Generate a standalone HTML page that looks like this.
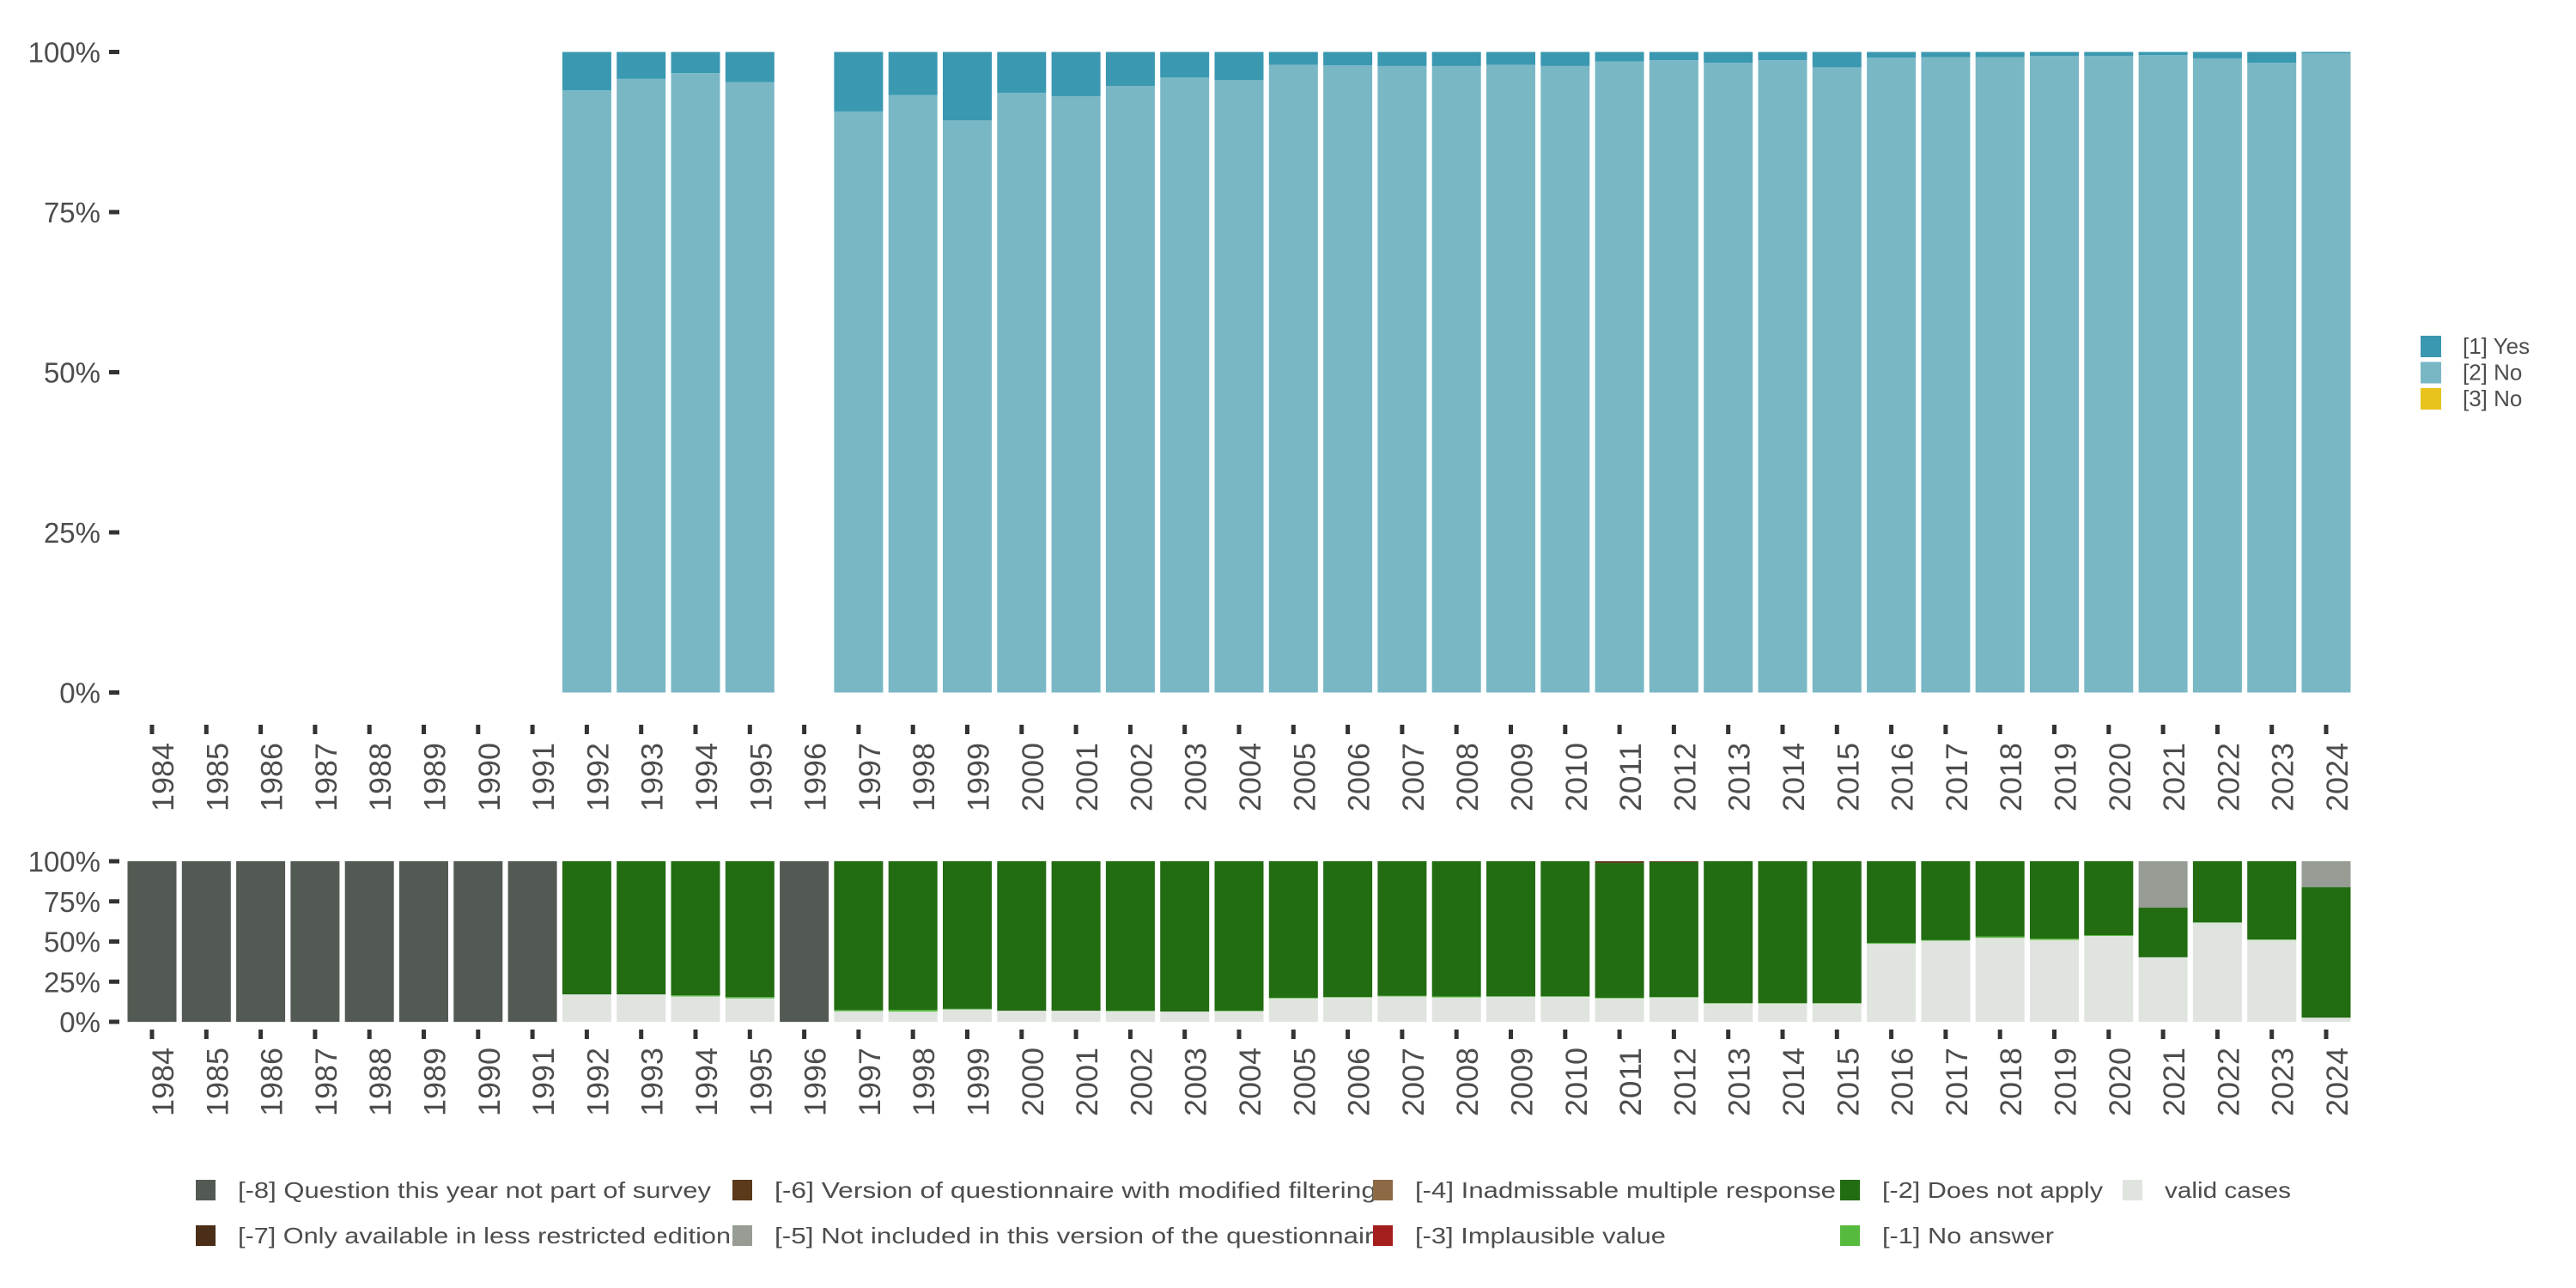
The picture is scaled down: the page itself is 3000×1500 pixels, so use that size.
<!DOCTYPE html>
<html><head><meta charset="utf-8"><style>
html,body{margin:0;padding:0;background:#fff}
svg{display:block}
text{font-family:"Liberation Sans","DejaVu Sans",sans-serif;fill:#4d4d4d}
</style></head><body>
<svg id="chart" width="3000" height="1500" viewBox="0 0 3000 1500" xmlns="http://www.w3.org/2000/svg">
<g id="top"></g>
<g id="bot"></g>
<g id="leg"></g>
</svg>
<script>
const years = [1984,1985,1986,1987,1988,1989,1990,1991,1992,1993,1994,1995,1996,1997,1998,1999,2000,2001,2002,2003,2004,2005,2006,2007,2008,2009,2010,2011,2012,2013,2014,2015,2016,2017,2018,2019,2020,2021,2022,2023,2024];
// top panel: share of "[2] No" (remainder "[1] Yes"); null = no data
const noShare = [null,null,null,null,null,null,null,null,94.0,95.8,96.7,95.3,null,90.7,93.3,89.3,93.6,93.1,94.7,96.0,95.6,98.0,97.9,97.8,97.8,98.0,97.8,98.5,98.7,98.3,98.7,97.6,99.1,99.2,99.2,99.4,99.4,99.5,99.0,98.3,99.8];
// bottom panel shares
const validShare = [0,0,0,0,0,0,0,0,17.1,17.1,15.8,14.6,0,6.6,6.4,7.7,6.9,6.9,6.6,6.4,6.6,14.6,15.2,15.8,15.2,15.6,15.6,14.6,15.2,11.4,11.4,11.4,48.6,50.5,52.3,51.0,53.5,40.2,61.7,51.0,2.6];
const noAnswerShare = [0,0,0,0,0,0,0,0,0,0,0.7,0.8,0,0.7,1.1,0.4,0,0,0.3,0,0.3,0.4,0.3,0.4,0.6,0.3,0.3,0.4,0.3,0.3,0.3,0.3,0.5,0.4,0.8,0.8,0.5,0,0.3,0.3,0];
const notIncludedShare = [0,0,0,0,0,0,0,0,0,0,0,0,0,0,0,0,0,0,0,0,0,0,0,0,0,0,0,0,0,0,0,0,0,0,0,0,0,28.9,0,0,16.1];
const modFilterShare = [0,0,0,0,0,0,0,0,0,0,0,0,0,0,0,0,0,0,0,0,0,0,0,0,0,0,0,1.1,0.5,0,0,0,0,0,0,0,0,0,0,0,0];
const notSurveyShare = [100,100,100,100,100,100,100,100,0,0,0,0,100,0,0,0,0,0,0,0,0,0,0,0,0,0,0,0,0,0,0,0,0,0,0,0,0,0,0,0,0];
const yTicks = [0,25,50,75,100];
const yTickLabels = ["0%","25%","50%","75%","100%"];

const NS="http://www.w3.org/2000/svg";
function mk(tag,attrs,parent,txt){const e=document.createElementNS(NS,tag);for(const k in attrs)e.setAttribute(k,attrs[k]);if(txt!==undefined)e.textContent=txt;parent.appendChild(e);return e;}
const x0=177, step=63.3, bw=57;
const xC=i=>x0+i*step;

function panel(g,yTop,yBot,labelTop){
  const yS=v=>yBot-(v/100)*(yBot-yTop);
  yTicks.forEach((t,i)=>{
    const tk=mk('rect',{x:127,y:yS(t)-2.5,width:12,height:5,fill:'#333'},g);
    
    
    const lb=mk('text',{x:117,y:yS(t)+12,'font-size':33,'text-anchor':'end'},g,yTickLabels[i]);
    
    
  });
  years.forEach((yr,i)=>{
    const tk=mk('rect',{x:xC(i)-2.5,y:labelTop-21,width:5,height:11,fill:'#333'},g);
    
    
    const lb=mk('text',{x:0,y:0,'font-size':35,'text-anchor':'end',textLength:80,lengthAdjust:'spacingAndGlyphs',transform:`translate(${xC(i)+25},${labelTop}) rotate(-90)`},g,String(yr));
    
    
  });
  return yS;
}
function seg(g,i,yS,from,to,color,name){
  if(to-from<=0)return;
  const r=mk('rect',{x:xC(i)-bw/2,y:yS(to),width:bw,height:yS(from)-yS(to),fill:color},g);
  
  
}
// top
const gt=document.getElementById('top');
const ySt=panel(gt,60.5,806.5,865);
years.forEach((yr,i)=>{
  if(noShare[i]===null)return;
  seg(gt,i,ySt,0,noShare[i],'#79B7C5','bar-no-'+yr);
  seg(gt,i,ySt,noShare[i],100,'#3A98B1','bar-yes-'+yr);
});
// bottom
const gb=document.getElementById('bot');
const ySb=panel(gb,1003,1190,1220);
years.forEach((yr,i)=>{
  let c=0;
  const parts=[[validShare[i],'#E0E4DF','valid'],[noAnswerShare[i],'#56BA3E','no-answer'],[null,'#226C12','does-not-apply'],[modFilterShare[i],'#5A3A1A','modified-filtering'],[notIncludedShare[i],'#979C95','not-included'],[notSurveyShare[i],'#535A53','not-part-of-survey']];
  const known=validShare[i]+noAnswerShare[i]+modFilterShare[i]+notIncludedShare[i]+notSurveyShare[i];
  parts[2][0]=Math.max(0,100-known);
  parts.forEach(p=>{seg(gb,i,ySb,c,c+p[0],p[1],'bar-'+p[2]+'-'+yr);c+=p[0];});
});
// legends
const gl=document.getElementById('leg');
const topLeg=[['[1] Yes','#3A98B1'],['[2] No','#79B7C5'],['[3] No','#E8C31E']];
topLeg.forEach((l,i)=>{
  const y=391+i*30.5;
  const k=mk('rect',{x:2819,y:y,width:24,height:25,fill:l[1]},gl);
  
  
  const t=mk('text',{x:2868,y:y+21,'font-size':26},gl,l[0]);
  
  
});
const botLeg=[
 ['[-8] Question this year not part of survey','#535A53',228,0,551],
 ['[-6] Version of questionnaire with modified filtering','#5A3A1A',853,0,701],
 ['[-4] Inadmissable multiple response','#8B6A45',1599,0,490],
 ['[-2] Does not apply','#226C12',2143,0,257],
 ['valid cases','#E0E4DF',2472,0,147],
 ['[-7] Only available in less restricted edition','#4A2E18',228,1,574],
 ['[-5] Not included in this version of the questionnaire','#979C95',853,1,715],
 ['[-3] Implausible value','#A51E1E',1599,1,292],
 ['[-1] No answer','#56BA3E',2143,1,200]];
botLeg.forEach(l=>{
  const y=l[3]?1427:1374;
  const k=mk('rect',{x:l[2],y:y,width:23,height:24,fill:l[1]},gl);
  
  
  const t=mk('text',{x:l[2]+49,y:y+21,'font-size':26,textLength:l[4],lengthAdjust:'spacingAndGlyphs'},gl,l[0]);
  
  
});
</script>
</body></html>
